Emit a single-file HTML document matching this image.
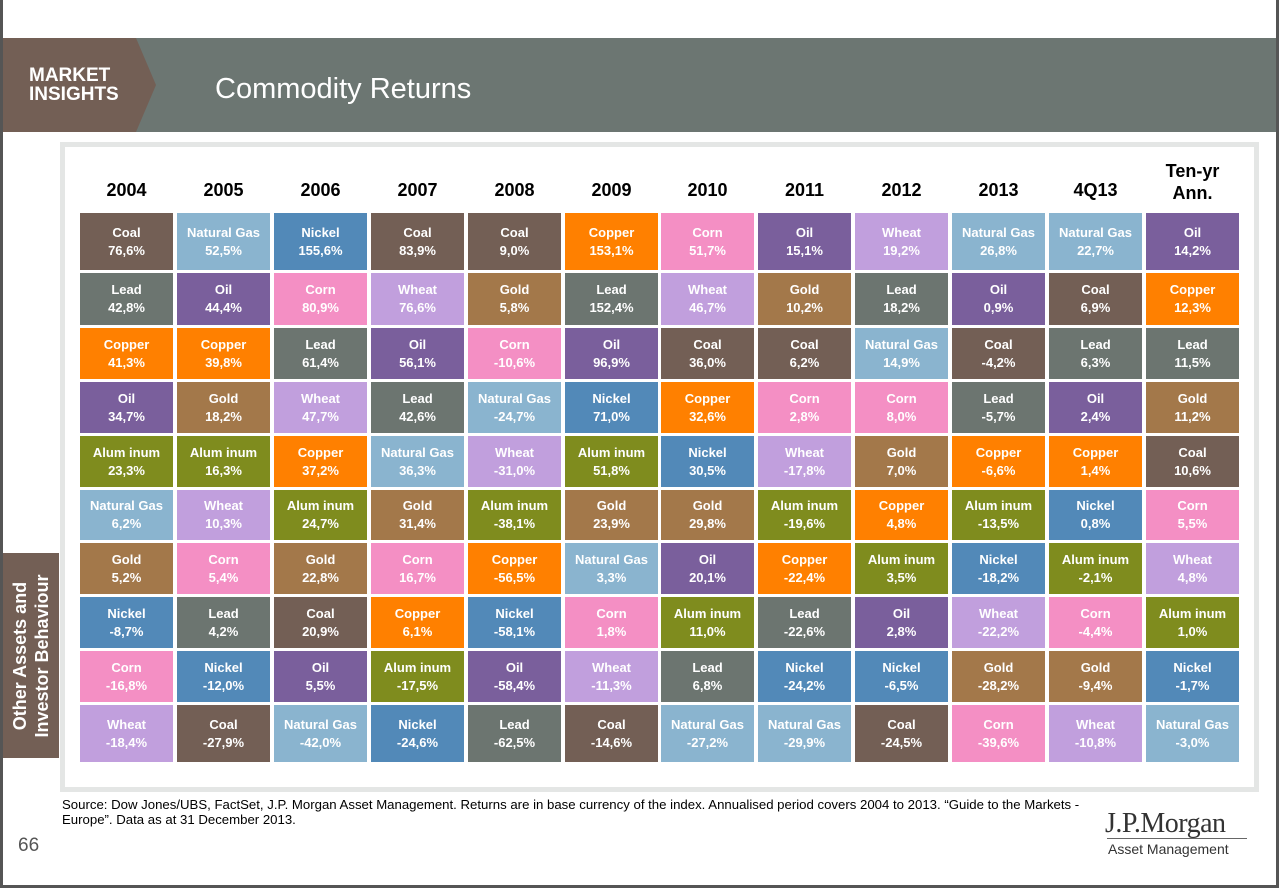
<!DOCTYPE html>
<html><head><meta charset="utf-8"><style>
*{margin:0;padding:0;box-sizing:border-box}
body{width:1279px;height:888px;position:relative;background:#fff;font-family:"Liberation Sans",sans-serif;overflow:hidden}
.bd{position:absolute;inset:0;border:3px solid #555;border-top:0;pointer-events:none}
.hdr{position:absolute;left:3px;top:38px;width:1273px;height:94px;background:#6c7672}
.brown{position:absolute;left:3px;top:38px;width:153px;height:94px;background:#735f55;clip-path:polygon(0 0,133px 0,153px 47px,133px 94px,0 94px)}
.mi{position:absolute;left:29px;top:66px;color:#fff;font-weight:bold;font-size:19px;line-height:19px;letter-spacing:0px}
.title{position:absolute;left:215px;top:73px;color:#fff;font-size:29px;font-family:"Liberation Sans",sans-serif;font-weight:normal;letter-spacing:0px}
.frame{position:absolute;left:60px;top:142px;width:1199px;height:650px;border:5px solid #e4e6e5;background:#fff}
.yr{position:absolute;width:93px;text-align:center;font-weight:bold;font-size:18px;color:#000}
.c{position:absolute;width:93px;color:#fff;font-weight:bold;font-size:13px;text-align:center;display:flex;flex-direction:column;justify-content:center;line-height:18px}
.side{position:absolute;left:3px;top:553px;width:56px;height:205px;background:#735f55}
.side span{position:absolute;left:50%;top:50%;transform:translate(-50%,-50%) rotate(-90deg);white-space:nowrap;color:#fff;font-weight:bold;font-size:18px;line-height:22px;text-align:center}
.src{position:absolute;left:62px;top:797px;font-size:13.2px;color:#000;line-height:15px;width:1100px;white-space:nowrap}
.pg{position:absolute;left:18px;top:835px;font-size:19px;color:#555}
.logo{position:absolute;left:1105px;top:808px;font-family:"Liberation Serif",serif;font-size:28px;color:#333;letter-spacing:-0.5px}
.am{position:absolute;left:1108px;top:841px;font-size:14px;color:#333}
.line{position:absolute;left:1107px;top:838px;width:140px;height:1px;background:#666}
</style></head><body>
<div class="hdr"></div><div class="brown"></div>
<div class="mi">MARKET<br>INSIGHTS</div>
<div class="title">Commodity Returns</div>
<div class="frame"></div>
<div id="g"></div>
<div class="side"><span>Other Assets and<br>Investor Behaviour</span></div>
<div class="src">Source: Dow Jones/UBS, FactSet, J.P. Morgan Asset Management. Returns are in base currency of the index. Annualised period covers 2004 to 2013. “Guide to the Markets -<br>Europe”. Data as at 31 December 2013.</div>
<div class="pg">66</div>
<div class="logo">J.P.Morgan</div><div class="line"></div>
<div class="am">Asset Management</div>
<div class="bd"></div>
<script>
const col={Coal:"#735f55","Natural Gas":"#8ab4cf",Nickel:"#5289b8",Gold:"#a3784a",Corn:"#f48fc4",Lead:"#6c7570",Oil:"#7a5f9c",Aluminum:"#7f8c1e",Wheat:"#c19fdd",Copper:"#ff8000"};
const yrs=["2004","2005","2006","2007","2008","2009","2010","2011","2012","2013","4Q13","Ten-yr<br>Ann."];
const d=[
"Coal 76,6|Lead 42,8|Copper 41,3|Oil 34,7|Aluminum 23,3|Natural Gas 6,2|Gold 5,2|Nickel -8,7|Corn -16,8|Wheat -18,4",
"Natural Gas 52,5|Oil 44,4|Copper 39,8|Gold 18,2|Aluminum 16,3|Wheat 10,3|Corn 5,4|Lead 4,2|Nickel -12,0|Coal -27,9",
"Nickel 155,6|Corn 80,9|Lead 61,4|Wheat 47,7|Copper 37,2|Aluminum 24,7|Gold 22,8|Coal 20,9|Oil 5,5|Natural Gas -42,0",
"Coal 83,9|Wheat 76,6|Oil 56,1|Lead 42,6|Natural Gas 36,3|Gold 31,4|Corn 16,7|Copper 6,1|Aluminum -17,5|Nickel -24,6",
"Coal 9,0|Gold 5,8|Corn -10,6|Natural Gas -24,7|Wheat -31,0|Aluminum -38,1|Copper -56,5|Nickel -58,1|Oil -58,4|Lead -62,5",
"Copper 153,1|Lead 152,4|Oil 96,9|Nickel 71,0|Aluminum 51,8|Gold 23,9|Natural Gas 3,3|Corn 1,8|Wheat -11,3|Coal -14,6",
"Corn 51,7|Wheat 46,7|Coal 36,0|Copper 32,6|Nickel 30,5|Gold 29,8|Oil 20,1|Aluminum 11,0|Lead 6,8|Natural Gas -27,2",
"Oil 15,1|Gold 10,2|Coal 6,2|Corn 2,8|Wheat -17,8|Aluminum -19,6|Copper -22,4|Lead -22,6|Nickel -24,2|Natural Gas -29,9",
"Wheat 19,2|Lead 18,2|Natural Gas 14,9|Corn 8,0|Gold 7,0|Copper 4,8|Aluminum 3,5|Oil 2,8|Nickel -6,5|Coal -24,5",
"Natural Gas 26,8|Oil 0,9|Coal -4,2|Lead -5,7|Copper -6,6|Aluminum -13,5|Nickel -18,2|Wheat -22,2|Gold -28,2|Corn -39,6",
"Natural Gas 22,7|Coal 6,9|Lead 6,3|Oil 2,4|Copper 1,4|Nickel 0,8|Aluminum -2,1|Corn -4,4|Gold -9,4|Wheat -10,8",
"Oil 14,2|Copper 12,3|Lead 11,5|Gold 11,2|Coal 10,6|Corn 5,5|Wheat 4,8|Aluminum 1,0|Nickel -1,7|Natural Gas -3,0"];
const tops=[213,273,328,382,436,490,543,597,651,705],bots=[270,325,379,433,487,540,594,648,702,762];
let h="";
d.forEach((s,i)=>{const x=Math.round(80+i*96.9);
const last=i==11;
h+=`<div class="yr" style="left:${x}px;top:${last?160:178}px;line-height:${last?22:24}px">${yrs[i]}</div>`;
s.split("|").forEach((e,r)=>{const k=e.lastIndexOf(" ");const n=e.slice(0,k),v=e.slice(k+1);
h+=`<div class="c" style="left:${x}px;top:${tops[r]}px;height:${bots[r]-tops[r]}px;background:${col[n]}"><div>${n=="Aluminum"?"Alum inum":n}</div><div>${v}%</div></div>`;});});
document.getElementById("g").innerHTML=h;
</script>
</body></html>
